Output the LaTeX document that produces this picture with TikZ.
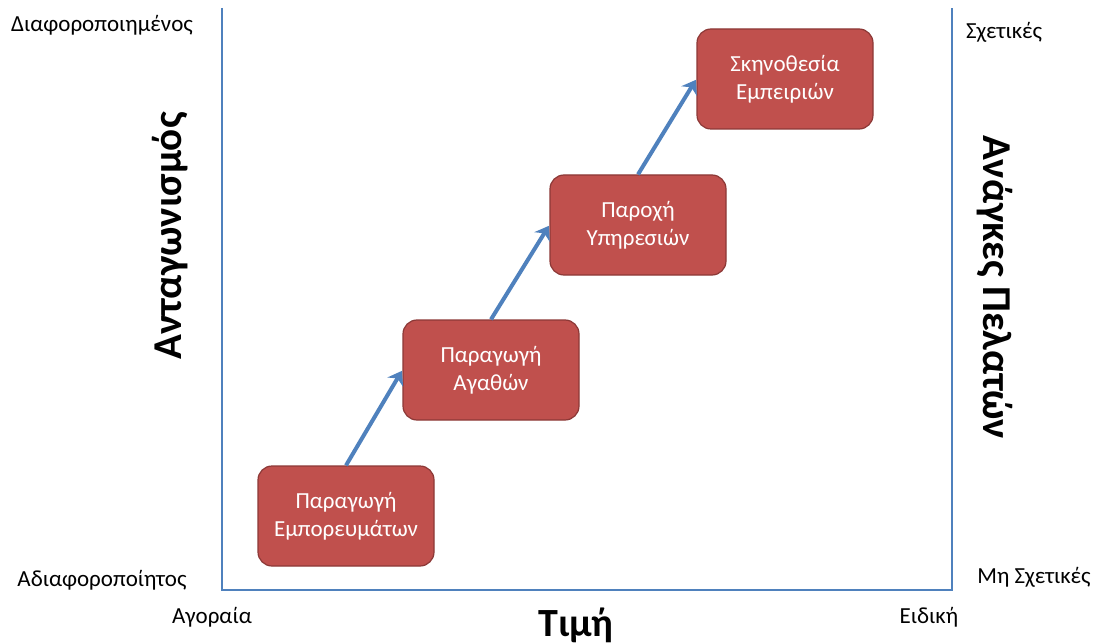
\documentclass[tikz,border=0pt]{standalone}
\usepackage{fontspec}
\setmainfont{Carlito}
\usetikzlibrary{arrows.meta}
\definecolor{axisblue}{HTML}{4F81BD}
\definecolor{boxred}{HTML}{C0504D}
\definecolor{boxedge}{HTML}{8C3836}
\tikzset{
  stage/.style={draw=boxedge, line width=1.2pt, fill=boxred, rounded corners=14pt,
    minimum width=176pt, minimum height=100pt, text=white, align=center,
    font=\fontsize{23}{28}\selectfont},
  lbl/.style={font=\fontsize{23}{27}\selectfont, text=black},
  biglbl/.style={font=\fontsize{41}{45}\selectfont\bfseries, text=black},
  axisline/.style={draw=axisblue, line width=1.6pt},
  stepArrow/.style={draw=axisblue, line width=4pt, -{Stealth[length=13pt,width=18pt]}, shorten >=1pt}
}
\begin{document}
\begin{tikzpicture}[x=1pt,y=-1pt]
\useasboundingbox (0,0) rectangle (1094,644);
\coordinate (tl) at (222,8);
\coordinate (bl) at (222,590);
\coordinate (br) at (952,590);
\coordinate (tr) at (952,8);
\draw[axisline] (tl) -- (bl) -- (br) -- (tr);

\node[stage] (s1) at (346,516) {Παραγωγή\\Εμπορευμάτων};
\node[stage] (s2) at (491,370) {Παραγωγή\\Αγαθών};
\node[stage] (s3) at (638,225) {Παροχή\\Υπηρεσιών};
\node[stage] (s4) at (785,79) {Σκηνοθεσία\\Εμπειριών};

\draw[stepArrow] (s1.north) -- (s2.west);
\draw[stepArrow] (s2.north) -- (s3.west);
\draw[stepArrow] (s3.north) -- (s4.west);

\node[lbl] (dif) at (102,25) {Διαφοροποιημένος};
\node[lbl] (adif) at (102,580) {Αδιαφοροποίητος};
\node[lbl] (agor) at (212,617) {Αγοραία};
\node[lbl] (eid) at (929,617) {Ειδική};
\node[lbl] (sx) at (1004,32) {Σχετικές};
\node[lbl] (msx) at (1034,577) {Μη Σχετικές};
\node[biglbl, font=\fontsize{40}{44}\selectfont\bfseries, anchor=base] (tim) at (576,636) {Τιμή};
\node[biglbl, rotate=90] (ant) at (170,236) {Ανταγωνισμός};
\node[biglbl, rotate=-90] (anag) at (995,287) {Ανάγκες Πελατών};
\end{tikzpicture}
\end{document}
